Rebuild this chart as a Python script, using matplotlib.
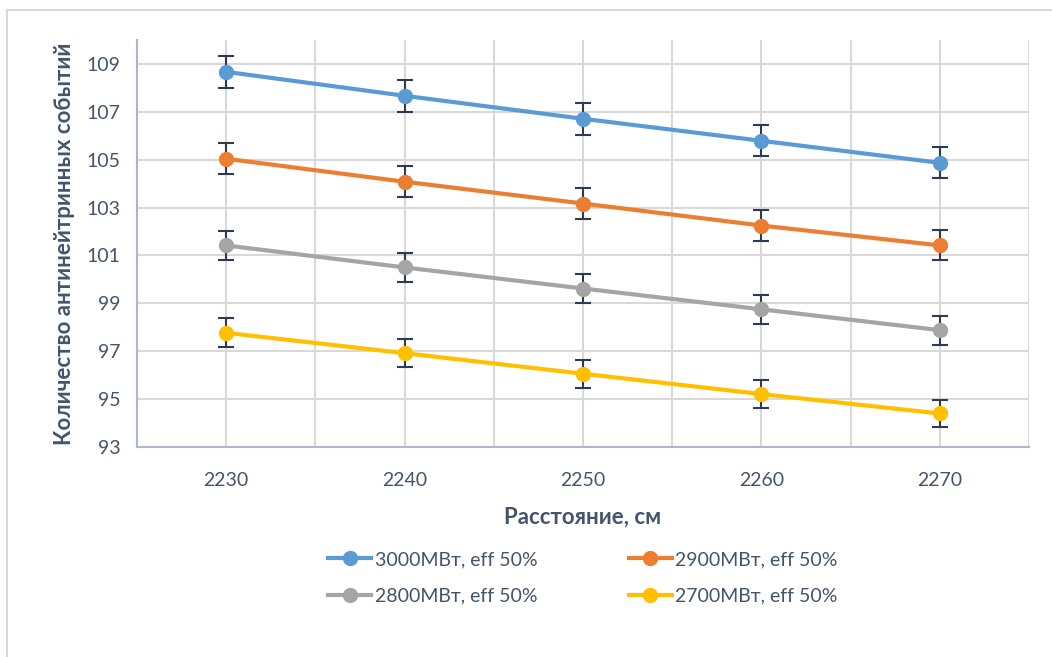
import matplotlib.pyplot as plt
from matplotlib.patches import Rectangle
from matplotlib.ticker import MultipleLocator

# === Data ===
distance = [2230, 2240, 2250, 2260, 2270]

events_3000 = [108.67, 107.67, 106.71, 105.79, 104.87]
events_2900 = [105.04, 104.08, 103.17, 102.25, 101.42]
events_2800 = [101.42, 100.50, 99.62, 98.75, 97.88]
events_2700 = [97.77, 96.92, 96.06, 95.21, 94.40]

err_3000 = [0.67, 0.66, 0.66, 0.65, 0.65]
err_2900 = [0.65, 0.64, 0.64, 0.63, 0.63]
err_2800 = [0.62, 0.62, 0.61, 0.61, 0.60]
err_2700 = [0.60, 0.59, 0.59, 0.58, 0.58]

labels = ['3000МВт, eff 50%', '2900МВт, eff 50%', '2800МВт, eff 50%', '2700МВт, eff 50%']
colors = ['#5B9BD5', '#ED7D31', '#A5A5A5', '#FFC000']

series = [events_3000, events_2900, events_2800, events_2700]
errors = [err_3000, err_2900, err_2800, err_2700]

text_color = '#44546A'
plt.rcParams['font.family'] = ['Lato', 'DejaVu Sans']

# === Plot ===
fig = plt.figure(figsize=(10.52, 6.57), dpi=100)
fig.patches.append(Rectangle((7 / 1052, -0.1), 1.2, 1 - 10 / 657 + 0.1,
                             transform=fig.transFigure, fill=False,
                             edgecolor='#D9D9D9', linewidth=1.5))
ax = fig.add_axes([137 / 1052, 1 - 447 / 657, (1029 - 137) / 1052, (447 - 40) / 657])

handles = []
for vals, err, lab, col in zip(series, errors, labels, colors):
    ax.errorbar(distance, vals, yerr=err, fmt='none', ecolor='#2E3B4E',
                elinewidth=1.5, capsize=6, capthick=1.5, zorder=3)
    h, = ax.plot(distance, vals, '-o', color=col, lw=3, markersize=10,
                 label=lab, zorder=4)
    handles.append(h)

ax.set_xlim(2225, 2275)
ax.set_ylim(93, 110)
ax.set_xticks(distance)
ax.xaxis.set_minor_locator(MultipleLocator(5))
ax.set_yticks(range(93, 110, 2))

ax.grid(True, which='both', color='#D9D9D9', lw=1.5)
ax.set_axisbelow(True)
for s in ['top', 'right']:
    ax.spines[s].set_visible(False)
for s in ['left', 'bottom']:
    ax.spines[s].set_color('#ADB9CA')
    ax.spines[s].set_linewidth(1.5)

ax.tick_params(which='both', length=0, labelsize=14, labelcolor=text_color)
ax.tick_params(axis='x', pad=18)
ax.tick_params(axis='y', pad=12)

ax.set_xlabel('Расстояние, см', fontsize=16, fontweight='bold', color=text_color, labelpad=13)
ax.set_ylabel('Количество антинейтринных событий', fontsize=16, fontweight='bold',
              color=text_color, labelpad=8)

# legend fills row by row, like the original
order = [0, 2, 1, 3]
fig.legend(handles=[handles[i] for i in order], loc='center',
           bbox_to_anchor=(583 / 1052, 1 - 578 / 657),
           ncol=2, frameon=False, fontsize=14, labelcolor=text_color,
           handlelength=2.2, handletextpad=0.2, columnspacing=4.7,
           labelspacing=1.0, numpoints=1)

plt.savefig('out.png')
